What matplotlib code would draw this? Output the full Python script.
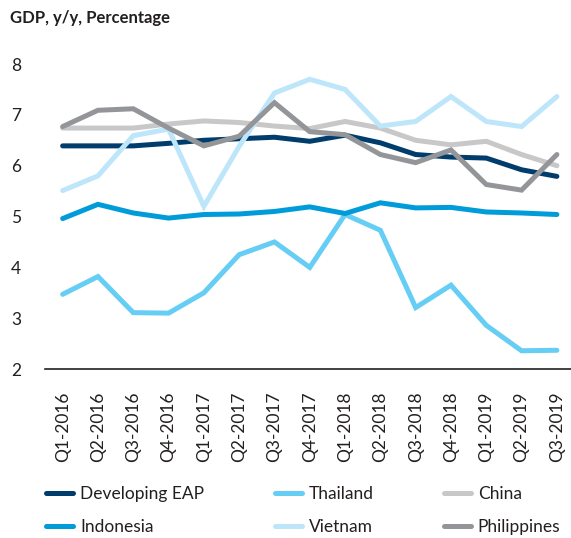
import matplotlib
matplotlib.use("Agg")
import matplotlib.pyplot as plt

quarters = ["Q1-2016", "Q2-2016", "Q3-2016", "Q4-2016",
            "Q1-2017", "Q2-2017", "Q3-2017", "Q4-2017",
            "Q1-2018", "Q2-2018", "Q3-2018", "Q4-2018",
            "Q1-2019", "Q2-2019", "Q3-2019"]

developing_eap = [6.39, 6.39, 6.39, 6.44, 6.50, 6.53, 6.56, 6.48, 6.60, 6.45, 6.22, 6.17, 6.15, 5.92, 5.79]
indonesia = [4.96, 5.24, 5.07, 4.97, 5.04, 5.05, 5.10, 5.19, 5.06, 5.27, 5.17, 5.18, 5.09, 5.07, 5.04]
thailand = [3.47, 3.82, 3.11, 3.10, 3.50, 4.25, 4.50, 4.00, 5.04, 4.73, 3.21, 3.65, 2.86, 2.36, 2.37]
vietnam = [5.51, 5.80, 6.59, 6.72, 5.20, 6.38, 7.43, 7.70, 7.50, 6.78, 6.87, 7.36, 6.87, 6.77, 7.36]
china = [6.74, 6.74, 6.74, 6.82, 6.88, 6.85, 6.78, 6.73, 6.87, 6.74, 6.50, 6.41, 6.48, 6.22, 6.00]
philippines = [6.77, 7.09, 7.12, 6.74, 6.39, 6.58, 7.24, 6.67, 6.61, 6.22, 6.06, 6.31, 5.63, 5.52, 6.22]

# legend fills column-first with ncol=3, so pairs go down each column
series = [
    ("Developing EAP", developing_eap, "#003c6c"),
    ("Indonesia", indonesia, "#009bd9"),
    ("Thailand", thailand, "#66cdf4"),
    ("Vietnam", vietnam, "#bde6fa"),
    ("China", china, "#c8c8c9"),
    ("Philippines", philippines, "#939598"),
]
draw_order = ["Thailand", "Indonesia", "Developing EAP", "China", "Vietnam", "Philippines"]

plt.rcParams["font.family"] = ["Lato", "DejaVu Sans"]
plt.rcParams["text.color"] = "#231f20"

fig = plt.figure(figsize=(5.71, 5.38), dpi=100)
ax = fig.add_axes([0.0788, 0.314, 0.9212, 0.567])

x = list(range(len(quarters)))
lines = []
for name, vals, col in series:
    z = 3 + draw_order.index(name)
    (ln,) = ax.plot(x, vals, color=col, lw=3.6, solid_joinstyle="miter",
                    solid_capstyle="round", label=name, zorder=z)
    lines.append(ln)

ax.set_ylim(2, 8)
ax.set_xlim(-0.5, 14.4)
ax.set_yticks([2, 3, 4, 5, 6, 7, 8])
ax.set_xticks(x)
ax.set_xticklabels(quarters, rotation=90, fontsize=12.5)
ax.tick_params(axis="y", length=0, pad=17, labelsize=12.5, colors="#231f20")
ax.tick_params(axis="x", length=0, pad=16, colors="#231f20")

for s in ["top", "right", "left"]:
    ax.spines[s].set_visible(False)
ax.spines["bottom"].set_color("#231f20")
ax.spines["bottom"].set_linewidth(1.2)

fig.text(0.017, 0.966, "GDP, y/y, Percentage", fontsize=12, fontweight="bold", va="center")

fig.legend(lines, [s[0] for s in series],
           loc="lower left", bbox_to_anchor=(0.054, -0.024), ncol=3, frameon=False,
           fontsize=12.5, handlelength=1.55, handletextpad=0.4, columnspacing=4.05,
           labelspacing=1.0)

fig.savefig("out.png", dpi=100)
